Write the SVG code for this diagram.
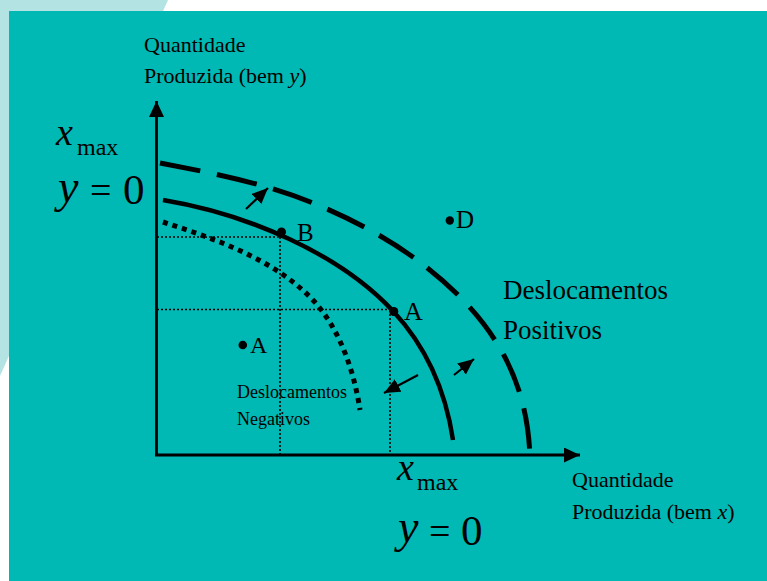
<svg xmlns="http://www.w3.org/2000/svg" width="767" height="581" viewBox="0 0 767 581">
<style>
text{font-family:"Liberation Serif","Times New Roman",serif;fill:#000}
.ax{font-size:22px}
.it{font-style:italic}
.m{font-size:38px}
.curve{fill:none;stroke:#000}
.guide{fill:none;stroke:#000;stroke-width:1.6;stroke-dasharray:2 2}
.arr{stroke:#000;stroke-width:2.2;fill:none}
</style>
<defs>
<marker id="head" markerUnits="userSpaceOnUse" markerWidth="17" markerHeight="15" refX="16" refY="7" orient="auto">
<path d="M0,0 L16,7 L0,14 Z" fill="#000"/>
</marker>
<marker id="axhead" markerUnits="userSpaceOnUse" markerWidth="17" markerHeight="16" refX="16" refY="7.5" orient="auto">
<path d="M0,0 L16,7.5 L0,15 Z" fill="#000"/>
</marker>
</defs>
<rect width="767" height="581" fill="#fff"/>
<polygon points="0,0 168,0 0,376" fill="#b4e3e3"/>
<rect x="9" y="11" width="758" height="570" fill="#00b8b4"/>

<g id="axes">
<line x1="156.5" y1="456" x2="156.5" y2="101" stroke="#000" stroke-width="2.8" marker-end="url(#axhead)"/>
<line x1="155" y1="455" x2="580" y2="455" stroke="#000" stroke-width="2.8" marker-end="url(#axhead)"/>
</g>

<g id="guides">
<path class="guide" d="M157,237 H281 M280,237 V455"/>
<path class="guide" d="M157,309.5 H393 M390,310 V455"/>
</g>

<g id="curve-outer">
<path class="curve" stroke-width="5" stroke-dasharray="41 17" d="M160,163 C212,173 264,183 313,203 C368,225.5 420,256 461,298 C503,341 528,390 530,458"/>
</g>
<g id="curve-main">
<path class="curve" stroke-width="4.5" d="M163,200 C247,214 339,253 393,311 C427,347.5 445.5,390 453,440"/>
</g>
<g id="curve-inner">
<path class="curve" stroke-width="5" stroke-dasharray="5 5" d="M163,222 C215,239 271,258 310,297 C338,325 353.6,368 360,410"/>
</g>

<g id="connectors">
<line class="arr" x1="246" y1="209" x2="268" y2="188" marker-end="url(#head)"/>
<line class="arr" x1="418" y1="375" x2="384" y2="393" marker-end="url(#head)"/>
<line class="arr" x1="454" y1="375" x2="474" y2="359" marker-end="url(#head)"/>
</g>

<g id="point-B">
<circle cx="281.5" cy="232" r="4.5"/>
<text x="297" y="241" style="font-size:25px">B</text>
</g>
<g id="point-A1">
<circle cx="393.8" cy="311.5" r="4.5"/>
<text x="404" y="320" style="font-size:26px">A</text>
</g>
<g id="point-A2">
<circle cx="242.8" cy="345" r="4.3"/>
<text x="250" y="353" style="font-size:24px">A</text>
</g>
<g id="point-D">
<circle cx="449.8" cy="220.5" r="4.2"/>
<text x="456" y="228" style="font-size:25px">D</text>
</g>

<g id="label-y-axis">
<text class="ax" x="144" y="52">Quantidade</text>
<text class="ax" x="144" y="83">Produzida (bem <tspan class="it">y</tspan>)</text>
</g>
<g id="label-x-axis">
<text class="ax" x="572" y="487">Quantidade</text>
<text class="ax" x="572" y="519">Produzida (bem <tspan class="it">x</tspan>)</text>
</g>
<g id="label-pos">
<text x="503" y="299" style="font-size:27px">Deslocamentos</text>
<text x="503" y="339" style="font-size:27px">Positivos</text>
</g>
<g id="label-neg">
<text x="237" y="398" style="font-size:18px">Deslocamentos</text>
<text x="237" y="425" style="font-size:18px">Negativos</text>
</g>

<g id="math-left">
<text x="56" y="145" class="m it">x</text>
<text x="77" y="155" style="font-size:24px">max</text>
<text x="58" y="202" class="it" style="font-size:46px">y</text>
<text x="90" y="203" class="m">=</text>
<text x="123" y="204" style="font-size:43px">0</text>
</g>
<g id="math-bottom">
<text x="397" y="480" class="m it">x</text>
<text x="417" y="490" style="font-size:24px">max</text>
<text x="398" y="542" class="it" style="font-size:46px">y</text>
<text x="429" y="544" class="m">=</text>
<text x="461" y="545" style="font-size:43px">0</text>
</g>
</svg>
